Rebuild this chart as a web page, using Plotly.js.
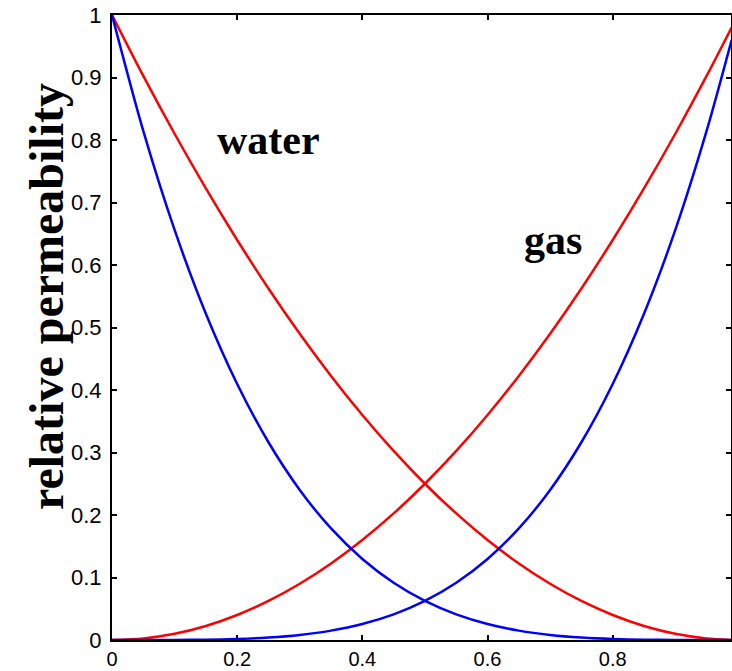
<!DOCTYPE html>
<html>
<head>
<meta charset="utf-8">
<script src="https://cdn.plot.ly/plotly-3.0.1.min.js"></script>
<style>html,body{margin:0;padding:0;background:#fff;}#chart{width:732px;height:671px;}</style>
</head>
<body>
<div id="chart"></div>
<script>
// saturation (x) sample points
const sat = [0, 0.05, 0.1, 0.15, 0.2, 0.25, 0.3, 0.35, 0.4, 0.45, 0.5, 0.55, 0.6, 0.65, 0.7, 0.75, 0.8, 0.85, 0.9, 0.95, 0.99];
// red curves
const redWater = [1, 0.9025, 0.81, 0.7225, 0.64, 0.5625, 0.49, 0.4225, 0.36, 0.3025, 0.25, 0.2025, 0.16, 0.1225, 0.09, 0.0625, 0.04, 0.0225, 0.01, 0.0025, 0.0001];
const redGas   = [0, 0.0025, 0.01, 0.0225, 0.04, 0.0625, 0.09, 0.1225, 0.16, 0.2025, 0.25, 0.3025, 0.36, 0.4225, 0.49, 0.5625, 0.64, 0.7225, 0.81, 0.9025, 0.98];
// blue curves
const blueWater = [1, 0.8145, 0.6561, 0.522, 0.4096, 0.3164, 0.2401, 0.1785, 0.1296, 0.0915, 0.0625, 0.041, 0.0256, 0.015, 0.0081, 0.0039, 0.0016, 0.0005, 0.0001, 0, 0];
const blueGas   = [0, 0, 0.0001, 0.0005, 0.0016, 0.0039, 0.0081, 0.015, 0.0256, 0.041, 0.0625, 0.0915, 0.1296, 0.1785, 0.2401, 0.3164, 0.4096, 0.522, 0.6561, 0.8145, 0.96];

const xTicks = [0, 0.2, 0.4, 0.6, 0.8];
const xTickText = ["0", "0.2", "0.4", "0.6", "0.8"];
const yTicks = [0, 0.1, 0.2, 0.3, 0.4, 0.5, 0.6, 0.7, 0.8, 0.9, 1];
const yTickText = ["0", "0.1", "0.2", "0.3", "0.4", "0.5", "0.6", "0.7", "0.8", "0.9", "1"];

const mk = (y, color) => ({
  x: sat, y: y, type: 'scatter', mode: 'lines',
  line: {color: color, width: 2.5, shape: 'spline', smoothing: 0.8},
  cliponaxis: false, hoverinfo: 'skip', showlegend: false
});

const data = [mk(redWater, '#ff0000'), mk(redGas, '#ff0000'), mk(blueWater, '#0000ff'), mk(blueGas, '#0000ff')];

const yTickFont = {family: 'Liberation Sans, Arial, sans-serif', size: 22, color: '#000'};
const xTickFont = {family: 'Liberation Sans, Arial, sans-serif', size: 20, color: '#000'};
const serifBold = 'Liberation Serif, Times New Roman, serif';

const layout = {
  width: 732, height: 671,
  margin: {l: 112, r: 1, t: 15, b: 31, pad: 0},
  paper_bgcolor: '#fff', plot_bgcolor: '#fff',
  showlegend: false,
  xaxis: {
    range: [0, 0.989], showgrid: false, zeroline: false,
    showline: true, linecolor: '#000', linewidth: 2, mirror: 'ticks',
    ticks: 'inside', ticklen: 5, tickwidth: 2, tickcolor: '#000',
    tickvals: xTicks, ticktext: xTickText, tickfont: xTickFont,
    ticklabelstandoff: 0,
    layer: 'below traces'
  },
  yaxis: {
    range: [0, 1], showgrid: false, zeroline: false,
    showline: true, linecolor: '#000', linewidth: 2, mirror: 'ticks',
    ticks: 'inside', ticklen: 5, tickwidth: 2, tickcolor: '#000',
    tickvals: yTicks, ticktext: yTickText, tickfont: yTickFont,
    ticklabelstandoff: 4,
    layer: 'below traces'
  },
  annotations: [
    {text: 'relative permeability', xref: 'paper', yref: 'paper', x: -0.107, y: 0.55,
     xanchor: 'center', yanchor: 'middle', textangle: -90, showarrow: false,
     font: {family: serifBold, size: 48, color: '#000', weight: 'bold'}},
    {text: 'water', xref: 'x', yref: 'y', x: 0.25, y: 0.8, xanchor: 'center', yanchor: 'middle',
     showarrow: false, font: {family: serifBold, size: 42, color: '#000', weight: 'bold'}},
    {text: 'gas', xref: 'x', yref: 'y', x: 0.705, y: 0.64, xanchor: 'center', yanchor: 'middle',
     showarrow: false, font: {family: serifBold, size: 42, color: '#000', weight: 'bold'}}
  ]
};

Plotly.newPlot('chart', data, layout, {displayModeBar: false, staticPlot: true});
</script>
</body>
</html>
